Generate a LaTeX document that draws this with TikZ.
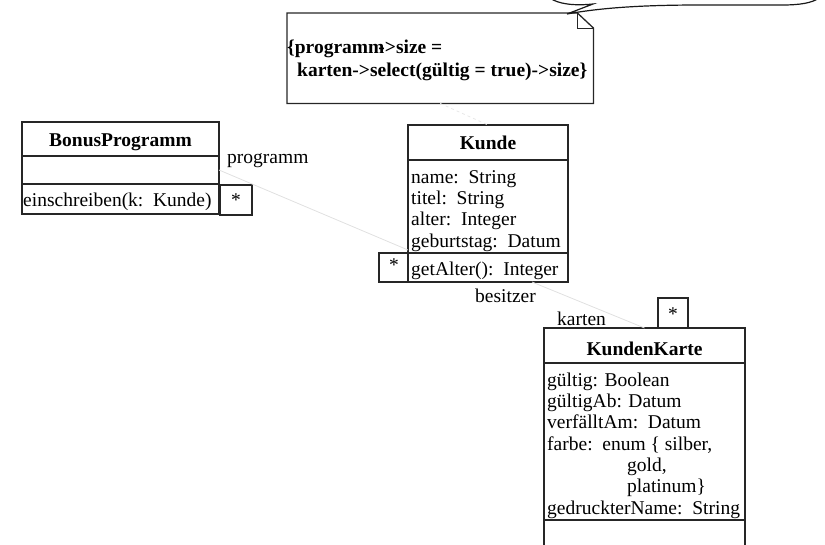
\documentclass[tikz,border=0pt]{standalone}
\usepackage{fontspec}
\setmainfont{Liberation Serif}
\newcommand\umlfont{\fontsize{19.5}{21.3}\selectfont}
\begin{document}
\begin{tikzpicture}[x=1pt,y=-1pt,
  compart/.style={draw=black!85, line width=1.1pt, anchor=north west,
    inner sep=0pt, outer sep=0pt},
  multbox/.style={compart},
  txt/.style={anchor=base west, inner sep=0pt, font=\umlfont},
  ttl/.style={anchor=base, inner sep=0pt, font=\umlfont\bfseries},
  notetxt/.style={anchor=base west, inner sep=0pt, font=\umlfont\bfseries},
  startxt/.style={anchor=base, inner sep=0pt, font=\umlfont},
  assoc/.style={draw=black!12, line width=0.8pt},
  anchorline/.style={draw=black!9, line width=0.8pt, dashed},
  outline/.style={draw=black!85, line width=1.3pt}]

\clip (0,0) rectangle (825,544);

% ---- BonusProgramm ----
\node[compart, minimum width=197pt, minimum height=34pt] (bpT) at (22,122) {};
\node[compart, minimum width=197pt, minimum height=28pt] (bpA) at (22,156) {};
\node[compart, minimum width=197pt, minimum height=30pt] (bpO) at (22,184) {};
\node[ttl] (bpName) at (120.5,146) {BonusProgramm};
\node[txt] (bpOp1) at (23,206.5) {einschreiben(k:~~Kunde)};
\node[multbox, minimum width=32pt, minimum height=30pt] (bpM) at (220,185) {};
\node[startxt] (bpStar) at (236,206) {*};
\node[txt] (roleProg) at (227,163) {programm};

% ---- Kunde ----
\node[compart, minimum width=160pt, minimum height=35pt] (kT) at (408,125) {};
\node[compart, minimum width=160pt, minimum height=93pt] (kA) at (408,160) {};
\node[compart, minimum width=160pt, minimum height=29pt] (kO) at (408,253) {};
\node[ttl] (kName) at (488,149.5) {Kunde};
\node[txt] (kA1) at (411,183)   {name:~~String};
\node[txt] (kA2) at (411,204.3) {titel:~~String};
\node[txt] (kA3) at (411,225.6) {alter:~~Integer};
\node[txt] (kA4) at (411,247)   {geburtstag:~~Datum};
\node[txt] (kOp1) at (411,275)  {getAlter():~~Integer};
\node[multbox, minimum width=29pt, minimum height=29pt] (kM) at (379,253) {};
\node[startxt] (kStar) at (394,271) {*};
\node[txt] (roleBes) at (475,302) {besitzer};

% ---- KundenKarte ----
\node[compart, minimum width=201pt, minimum height=35pt] (kkT) at (544,328) {};
\node[compart, minimum width=201pt, minimum height=157pt] (kkA) at (544,363) {};
\node[compart, minimum width=201pt, minimum height=40pt] (kkO) at (544,520) {};
\node[ttl] (kkName) at (644.5,355) {KundenKarte};
\node[txt] (kkA1) at (547,386)   {gültig: Boolean};
\node[txt] (kkA2) at (547,407.3) {gültigAb: Datum};
\node[txt] (kkA3) at (547,428.6) {verfälltAm:~~Datum};
\node[txt] (kkA4) at (547,450)   {farbe:~~enum \{ silber,};
\node[txt] (kkA5) at (627,471.2) {gold,};
\node[txt] (kkA6) at (627,492.5) {platinum\}};
\node[txt] (kkA7) at (547,514)   {gedruckterName:~~String};
\node[multbox, minimum width=30pt, minimum height=30pt] (kkM) at (658,298) {};
\node[startxt] (kkStar) at (673,320) {*};
\node[txt] (roleKart) at (557,325) {karten};

% ---- constraint note ----
\node[anchor=north west, inner sep=0pt, minimum width=306pt, minimum height=90pt] (note) at (287,13) {};
\draw[outline] (note.north west) -- ([xshift=-16pt]note.north east)
  -- ([yshift=-15pt]note.north east) -- (note.south east)
  -- (note.south west) -- cycle;
\draw[draw=black!85, line width=1pt] ([xshift=-16pt]note.north east)
  -- ([xshift=-16pt,yshift=-15pt]note.north east) -- ([yshift=-15pt]note.north east);
\node[notetxt] (noteL1) at (287,53) {\{programm\kern-6pt->size =};
\node[notetxt] (noteL2) at (297,76) {karten->select(gültig = true)->size\}};

% speech bubble edge above the note
\draw[draw=black!90, line width=1.2pt]
  (550,-2) .. controls (558,4) and (574,6) .. (593,4) -- (567,14)
  .. controls (600,8) and (640,5) .. (700,5) -- (782,5)
  .. controls (800,5) and (812,3) .. (819,-2);

% ---- associations ----
\draw[assoc] (bpA.east) -- ([yshift=3pt]kA.south west);
\draw[assoc] ([xshift=-36pt]kO.south east) -- (kkT.north);
\draw[anchorline] (note.south) -- (kT.north);
\end{tikzpicture}
\end{document}
